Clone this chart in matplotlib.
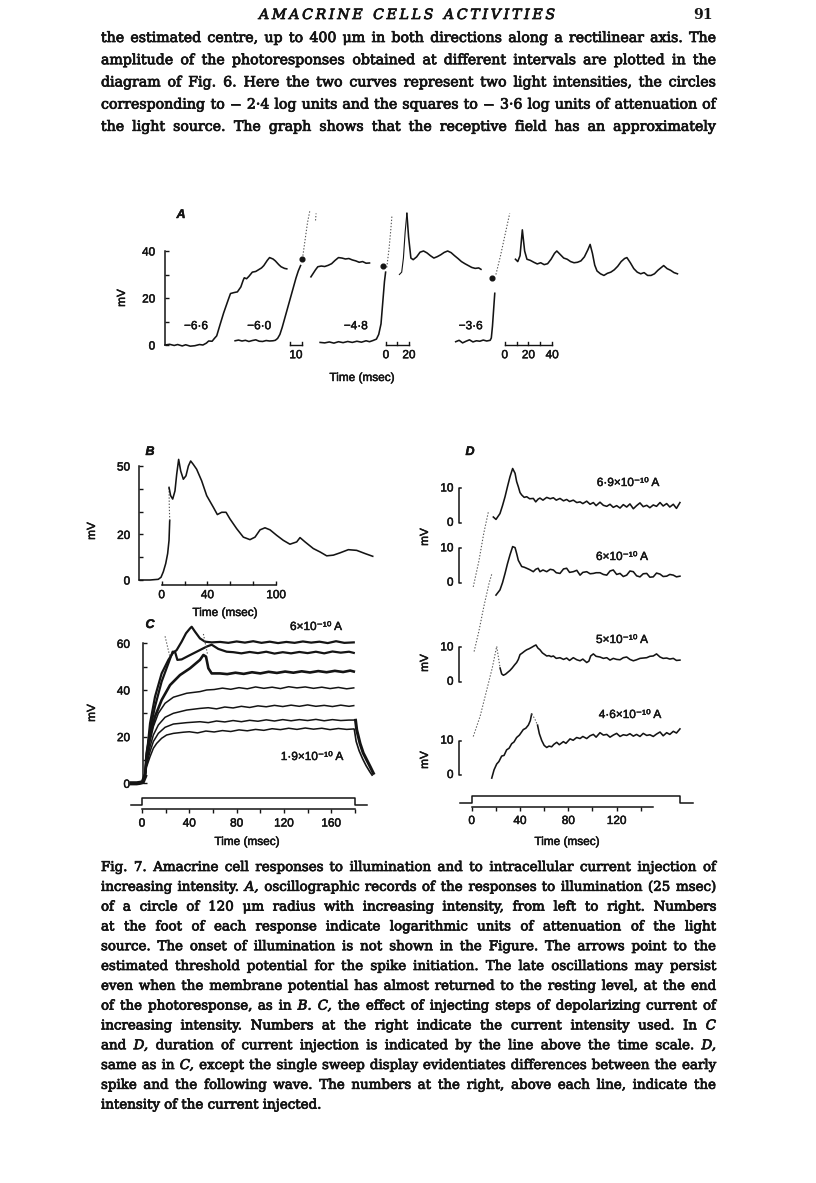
import numpy as np
import matplotlib
matplotlib.use("Agg")
import matplotlib.pyplot as plt
from matplotlib import patheffects

W, H = 816, 1183
SANS = ["Liberation Sans", "DejaVu Sans"]
SERIF = ["DejaVu Serif"]

# ---------------- page text ----------------
header = "AMACRINE CELLS ACTIVITIES"
page_no = "91"
body = [
    "the estimated centre, up to 400 μm in both directions along a rectilinear axis. The",
    "amplitude of the photoresponses obtained at different intervals are plotted in the",
    "diagram of Fig. 6. Here the two curves represent two light intensities, the circles",
    "corresponding to − 2·4 log units and the squares to − 3·6 log units of attenuation of",
    "the light source. The graph shows that the receptive field has an approximately",
]
caption = [
    "Fig. 7. Amacrine cell responses to illumination and to intracellular current injection of",
    "increasing intensity. _A, oscillographic records of the responses to illumination (25 msec)",
    "of a circle of 120 μm radius with increasing intensity, from left to right. Numbers",
    "at the foot of each response indicate logarithmic units of attenuation of the light",
    "source. The onset of illumination is not shown in the Figure. The arrows point to the",
    "estimated threshold potential for the spike initiation. The late oscillations may persist",
    "even when the membrane potential has almost returned to the resting level, at the end",
    "of the photoresponse, as in _B. _C, the effect of injecting steps of depolarizing current of",
    "increasing intensity. Numbers at the right indicate the current intensity used. In _C",
    "and _D, duration of current injection is indicated by the line above the time scale. _D,",
    "same as in _C, except the single sweep display evidentiates differences between the early",
    "spike and the following wave. The numbers at the right, above each line, indicate the",
    "intensity of the current injected.",
]

# ---------------- panel A: photoresponses (t in msec, mV) ----------------
a_labels = ["−6·6", "−6·0", "−4·8", "−3·6"]
a1 = [(0, 0), (4, 0.3), (8, -0.2), (11, 0.2), (15, -0.4), (18, 0.1), (22, -0.5), (26, -0.3),
      (30, 0.2), (33, 0.0), (36, 0.8), (38, 1.7), (41, 1.6), (43, 2.8), (45, 3.9), (48, 8.8),
      (51, 13.6), (55, 19.2), (57, 21.9), (60, 22.3), (63, 22.6), (66, 24.7), (68, 27.5),
      (69, 28.6), (71, 28.2), (73, 29.2), (76, 31), (79, 31.3), (81, 31.9), (84, 32.8),
      (86, 33.8), (89, 36), (91, 37.2), (94, 36.6), (96, 35.8), (99, 34.2), (101, 33.3),
      (104, 32.6), (106, 32.4)]
a2_foot = [(61, 1.8), (64, 2.1), (67, 1.7), (70, 2.0), (73, 1.5), (76, 1.9), (79, 2.2), (82, 1.6),
           (85, 1.5), (88, 1.9), (91, 1.7), (94, 1.8), (96, 2.0), (98, 2.8), (100, 4.5), (102, 7.5),
           (104, 11), (106, 14.5), (108, 18), (110, 21.5), (112, 25), (114, 28.5), (116, 31.5),
           (118, 33.8)]
a2_spike = [(120, 38), (122, 45), (124, 52), (126, 57)]
a2_tip = [(131, 53), (131.5, 56)]
a2_tail = [(127, 29), (129, 30.5), (131, 32), (133, 33.3), (136, 33.6), (139, 33.4), (142, 33.9),
           (145, 34.6), (148, 36), (151, 37.2), (154, 37), (157, 36.6), (160, 36.8), (163, 36.2),
           (166, 35.8), (169, 35.2), (172, 35.5), (175, 34.8), (178, 34.9)]
a3_foot = [(135, 1.1), (139, 0.9), (143, 1.3), (147, 0.8), (151, 1.4), (155, 1.0), (159, 1.5),
           (163, 1.1), (167, 1.6), (171, 1.2), (175, 1.8), (178, 1.4), (181, 1.9), (184, 2.5),
           (186, 4.5), (188, 9), (189, 15), (190, 21), (191, 27), (192, 31)]
a3_spike = [(193, 33), (195, 41), (196.5, 49), (197.5, 55)]
a3_up = [(204, 30), (206, 31), (207.5, 37), (209, 48), (210.5, 56)]
a3_tail = [(210.5, 56), (212, 46), (214, 37),
           (216, 36.3), (219, 37.5), (222, 39.5), (225, 40), (228, 39.2), (231, 38), (234, 37),
           (237, 37.6), (240, 38.4), (243, 39.4), (246, 40), (249, 39.3), (252, 38), (255, 36.8),
           (258, 35.5), (261, 34.6), (264, 33.8), (267, 33), (270, 32.6), (273, 32.8), (275, 32.2)]
a4_foot = [(253, 1.4), (256, 2.0), (259, 0.9), (262, 1.6), (265, 2.2), (268, 1.3), (271, 1.8),
           (274, 1.6), (277, 2.1), (280, 1.7), (283, 2.0), (284, 3), (285, 8), (286, 15), (287, 22)]
a4_spike = [(288, 30), (292, 38), (296, 47), (300, 56)]
a4_tail = [(305, 36.5), (307, 35.5), (309, 38), (311, 49), (313, 40), (315, 36.5), (318, 36),
           (321, 35.2), (324, 34.5), (327, 35), (330, 34.2), (333, 34.6), (336, 36.5), (339, 39),
           (341, 40), (344, 38.5), (347, 37), (350, 36.5), (353, 35.5), (356, 35), (359, 35.2),
           (362, 35.8), (365, 37.5), (368, 40.5), (370, 42.8), (372, 39), (374, 34), (376, 31.5),
           (379, 30.3), (382, 29.6), (385, 30.5), (388, 31), (391, 32), (394, 33.5), (397, 35.5),
           (400, 36.8), (402, 37.2), (405, 35), (408, 32.5), (411, 31), (414, 30.3), (417, 30.8),
           (420, 29.6), (423, 29.6), (426, 30.3), (429, 31.8), (432, 33), (434, 33.8), (437, 32.5),
           (440, 31.8), (443, 30.8), (446, 30.3)]
a_dots = [(119, 36.5), (189.5, 33.5), (285, 28.5)]
a_bar_ticks = [[109, 119], [192.3, 202.3, 212.3], [295.7, 306, 316.3, 326.7, 337]]
a_bar_labels = [{114: "10"}, {192.3: "0", 212.3: "20"}, {295.7: "0", 316.3: "20", 337: "40"}]

# ---------------- panel B ----------------
b_rise = [(-19.5, 0), (-10.2, 0), (-3.0, 0.3), (-0.6, 1.2), (1.4, 3.6), (3.5, 7.2), (5.2, 11.6),
          (6.4, 17.4), (7.0, 26.1)]
b_main = [(6.4, 40.6), (7.8, 37), (9.6, 35.5), (11.6, 39.1), (13.1, 46.4), (14.8, 52.9),
          (16.6, 47.8), (18.9, 44.2), (21.2, 45.7), (23.3, 50), (25.3, 52.2), (27.6, 50.7),
          (30.5, 48.6), (34.9, 43.5), (39.3, 37), (45.1, 31.9), (48.6, 28.7), (52.4, 29.7),
          (56.2, 29.7), (59.6, 26.8), (65.5, 22.5), (71.3, 18.8), (77.1, 17.7), (81.5, 18.8),
          (85.9, 22), (90.2, 22.9), (94.6, 22), (100.4, 19.6), (106.2, 17.4), (112, 15.7),
          (117.9, 16.7), (120.8, 18.6), (125.2, 16.7), (132.4, 13.8), (138.3, 12.3),
          (144.1, 10.6), (149.9, 10.9), (155.7, 11.9), (163, 13.3), (170.3, 13), (177.6, 11.6),
          (184.3, 10.4)]

# ---------------- panel C: current steps ----------------
c_levels_lbl = ["6×10⁻¹⁰ A", "1·9×10⁻¹⁰ A"]
c_start = [(-8.7, 0), (-4.5, 0), (-1.7, 0.2), (0.6, 0.5), (2.5, 2.9)]
c_tr = [
    [(2.5, 2.9), (3.9, 7.1), (6.8, 11.4), (9.6, 15), (12.4, 17.1), (16.6, 19.3), (20.8, 20.7),
     (26.5, 21.4), (35, 21.9), (40, 22.1), (47, 21.6), (54, 22.4), (61, 22.0), (68, 22.6),
     (75, 22.2), (82, 22.9), (89, 22.5), (96, 23.1), (103, 22.7), (110, 23.4), (117, 23.0),
     (124, 23.6), (131, 23.1), (138, 23.7), (145, 23.2), (152, 23.6), (159, 23.0), (166, 23.5),
     (173, 23.1), (179, 23.3)],
    [(2.5, 2.9), (3.9, 7.9), (6.8, 13.6), (9.6, 17.9), (13.8, 21.4), (19.5, 24), (26.5, 25.4),
     (37.8, 26), (49, 26.4), (56, 26.0), (63, 26.7), (70, 26.3), (77, 26.9), (84, 26.4),
     (91, 27.0), (98, 26.6), (105, 27.2), (112, 26.7), (119, 27.3), (126, 26.8), (133, 27.3),
     (140, 26.9), (147, 27.4), (154, 26.8), (161, 27.3), (168, 26.9), (175, 27.1), (179, 27.1)],
    [(2.5, 2.9), (3.9, 9.3), (6.8, 15.7), (9.6, 20.7), (13.8, 25), (19.5, 28.3), (26.5, 30),
     (37.8, 31.4), (49, 32.1), (56, 32.4), (63, 31.9), (70, 32.7), (77, 32.3), (84, 33.0),
     (91, 32.5), (98, 33.2), (105, 32.8), (112, 33.4), (119, 32.9), (126, 33.5), (133, 33.0),
     (140, 33.6), (147, 33.0), (154, 33.4), (161, 32.9), (168, 33.5), (175, 33.0), (179, 33.3)],
    [(2.5, 2.9), (3.9, 11.4), (6.8, 17.9), (9.6, 24.3), (13.8, 30), (19.5, 34.3), (26.5, 36.9),
     (37.8, 38.6), (49, 39.3), (54.7, 40), (61, 40.2), (68, 40.8), (75, 40.3), (82, 41.0),
     (89, 40.5), (96, 41.3), (103, 40.7), (110, 41.2), (117, 40.6), (124, 41.4), (131, 40.9),
     (138, 41.3), (145, 40.7), (152, 41.2), (159, 40.6), (166, 41.1), (173, 40.5), (179, 40.9)],
    [(2.5, 2.9), (3.9, 12.9), (6.8, 20.7), (11, 28.6), (16.6, 35.7), (23.7, 42.1), (32.1, 46.4),
     (40.6, 49.3), (49, 52.9), (51.9, 55), (54.1, 54.3), (56.1, 49.3), (58.9, 47.1), (66, 47.1),
     (72, 46.8), (79, 47.4), (86, 46.9), (93, 47.6), (100, 47.1), (107, 47.8), (114, 47.3),
     (121, 47.9), (128, 47.4), (135, 48.0), (142, 47.5), (149, 48.1), (156, 47.6), (163, 48.2),
     (170, 47.7), (176, 48.3), (179, 47.9)],
    [(2.5, 2.9), (3.9, 10.7), (6.8, 22.9), (11, 32.9), (16.6, 43.6), (22.3, 51.4), (25.9, 56.4),
     (27.9, 56.4), (29.9, 52.9), (33.5, 53.1), (39.2, 54.6), (46.2, 56.4), (54.7, 58.6),
     (58.9, 59.4), (64.5, 57.6), (71.6, 56.4), (77.2, 56.2), (84, 55.7), (91, 56.3), (98, 55.8),
     (105, 56.4), (112, 55.6), (119, 56.2), (126, 55.7), (133, 56.3), (140, 55.8), (147, 56.4),
     (154, 55.7), (161, 56.5), (168, 56.0), (175, 56.4), (179, 55.9)],
    [(2.5, 2.9), (3.9, 11.4), (6.8, 25.7), (11, 37.1), (16.6, 47.1), (22.3, 52.9), (25.9, 55.7),
     (29.3, 57.1), (33.5, 60.7), (37.2, 64.3), (40.6, 66.4), (42, 67.1), (44.8, 65), (49, 62.1),
     (53.3, 60.7), (58.9, 60.4), (66, 60.6), (73, 60.2), (80, 60.8), (87, 60.3), (94, 60.9),
     (101, 60.2), (108, 60.7), (115, 60.1), (122, 60.6), (129, 60.2), (136, 60.8), (143, 60.3),
     (150, 60.7), (157, 60.1), (164, 60.9), (171, 60.2), (179, 60.4)],
]
c_lw = [1.1, 1.1, 1.1, 1.1, 1.9, 1.6, 1.6]
c_faint = [[(19.5, 63), (23.7, 54)], [(51.9, 64), (55.5, 55)]]
c_end_a = [(180.5, 27), (181.5, 22.9), (184.3, 17.1), (187, 13), (190, 10), (193, 7), (195.6, 4.3)]
c_end_b = [(179.5, 23), (181, 18), (183.5, 14), (186.5, 10.5), (189.5, 7.5), (192.5, 5), (194.5, 3.5)]
c_step_t = [-9, 0, 0, 180, 180, 190]
c_step_on = [0, 0, 1, 1, 0, 0]

# ---------------- panel D: single sweeps ----------------
d_levels_lbl = ["6·9×10⁻¹⁰ A", "6×10⁻¹⁰ A", "5×10⁻¹⁰ A", "4·6×10⁻¹⁰ A"]
d1 = [(17.9, 1.7), (20.1, 1.0), (23.4, 2.7), (25.5, 5), (27.6, 7.6), (29.6, 10.5), (31.7, 13.4),
      (33.9, 15.8), (35.9, 14.4), (37.2, 12), (38.6, 10.5), (40, 8.8), (41.4, 8.1), (43.5, 7.4),
      (45.5, 7.6), (48, 7.0), (51, 7.1), (53, 6.1), (55, 6.9), (56.5, 7.2), (59, 6.6), (62.1, 7.4),
      (65, 7.0), (67.6, 7.3), (70, 6.6), (73.1, 7.1), (76, 6.4), (78.6, 6.8), (81, 6.2),
      (84.1, 6.6), (87, 5.9), (89.7, 6.1), (92, 5.6), (95.2, 6.3), (98, 5.4), (100.7, 5.9),
      (103, 5.0), (106.2, 6.0), (109, 5.1), (111.8, 4.8), (114.5, 5.4), (117.2, 4.5), (120, 5.0),
      (122.8, 4.3), (125.5, 5.3), (128.3, 4.6), (131, 5.5), (133.8, 4.1), (136.5, 5.0),
      (139.3, 5.8), (142, 4.7), (144.9, 5.1), (147.5, 4.4), (150.3, 5.2), (153, 4.8), (155.9, 5.9),
      (158.5, 4.9), (161.4, 5.6), (164, 4.6), (166.9, 5.4), (169.5, 4.2), (172.4, 5.9)]
d2 = [(20.1, -3.6), (23.4, -2.1), (25.5, 0), (27.6, 2.7), (29.6, 5.5), (31.7, 8.1), (33.9, 10.5),
      (35.9, 10.2), (37.2, 8.5), (38.6, 6.5), (40, 5.6), (41.4, 4.7), (43.5, 4.5), (45.5, 4.2),
      (48, 3.8), (51, 3.2), (53, 3.9), (55, 4.2), (56.5, 3.2), (59, 3.7), (62.1, 3.2), (65, 3.9),
      (67.6, 3.7), (70, 2.9), (73.1, 2.7), (76, 4.0), (78.6, 4.2), (81, 3.0), (84.1, 3.2), (87, 3.6),
      (89.7, 2.2), (92, 3.0), (95.2, 3.2), (98, 2.6), (100.7, 2.7), (103, 2.9), (106.2, 2.9),
      (109, 2.4), (111.8, 2.2), (114.5, 3.4), (117.2, 3.7), (120, 2.4), (122.8, 2.7), (125.5, 1.8),
      (128.3, 2.2), (131, 3.4), (133.8, 3.2), (136.5, 2.0), (139.3, 1.7), (142, 2.6), (144.9, 2.7),
      (147.5, 1.6), (150.3, 1.7), (153, 2.8), (155.9, 2.5), (158.5, 1.8), (161.4, 1.9), (164, 2.4),
      (166.9, 2.2), (169.5, 1.7), (172.4, 1.9)]
d3 = [(23.5, 4.0), (24.8, 2.3), (26.2, 1.9), (28, 2.2), (30, 2.8), (31.7, 3.3), (33.5, 4.0),
      (35.5, 4.9), (37.2, 5.6), (38.6, 6.5), (40, 7.9), (42, 8.4), (43.8, 8.9), (45.5, 9.3),
      (47.5, 9.6), (49.6, 10), (51.5, 10.4), (53.2, 10.7), (54.8, 9.8), (56.5, 9.3), (58.5, 8.4),
      (60.5, 7.9), (62.1, 7.5), (64, 7.6), (65.8, 7.3), (67.6, 7.5), (70, 6.8), (73.1, 7.0),
      (76, 6.5), (78.6, 6.9), (81, 6.2), (84.1, 7.0), (87, 6.4), (89.7, 6.1), (92, 6.6), (95.2, 5.6),
      (97, 6.0), (98.5, 7.5), (100.7, 8.1), (103, 7.4), (106.2, 7.2), (109, 6.8), (111.8, 7.0),
      (114.5, 6.3), (117.2, 6.8), (120, 6.5), (122.8, 6.4), (125.5, 7.0), (128.3, 7.2), (131, 6.5),
      (133.8, 6.1), (136.5, 6.4), (139.3, 6.8), (142, 6.9), (144.9, 7.0), (147.5, 7.4), (150.3, 7.5),
      (153, 8.1), (155.9, 7.2), (158.5, 6.8), (161.4, 6.9), (164, 6.6), (166.9, 6.8), (169.5, 6.2),
      (172.4, 6.3)]
d4_rise = [(16.6, -0.9), (18.5, 1.5), (20.7, 3.2), (22.5, 3.9), (24.8, 5.5), (26.8, 5.7),
           (28.9, 7.3), (31, 7.8), (33.1, 9.1), (35, 9.6), (37.2, 10.9), (39.5, 11.6), (42.7, 13.2),
           (44.8, 13.6), (46.9, 14.5), (48.5, 15.8), (49.6, 17.7)]
d4 = [(54.5, 14.5), (56, 12), (58, 10), (60, 8.6), (62.1, 8.0), (64, 8.4), (66.2, 8.2), (68, 8.9),
      (70.4, 9.5), (72.5, 8.8), (75.9, 9.7), (78, 9.2), (81.4, 10.5), (84, 10.1), (86.9, 10.9),
      (89.7, 10.6), (92, 11.2), (95.2, 10.6), (98, 11.4), (100.7, 11.8), (103, 11.0), (106.2, 12.3),
      (109, 11.6), (111.8, 11.8), (114.5, 11.0), (117.2, 11.6), (120, 12.1), (122.8, 11.2),
      (125.5, 11.7), (128.3, 11.5), (131, 12.0), (133.8, 11.3), (136.5, 11.8), (139.3, 11.2),
      (142, 12.1), (144.9, 11.5), (147.5, 11.7), (150.3, 11.2), (153, 11.9), (155.9, 12.5),
      (158.5, 11.4), (161.4, 12.3), (164, 11.8), (166.9, 12.7), (169.5, 12.2), (172.4, 13.4)]
d_faint = [
    [(1.3, -18.6), (6, -11), (10, -3), (13.8, 3.2)],
    [(2, -20), (6, -14), (10, -7), (14.5, 0), (16.6, 2.5)],
    [(1.3, -15.9), (7, -10), (12, -3), (17, 4), (20.7, 10.3), (23.5, 4)],
    [(49.6, 17.7), (52, 16.5), (54.5, 14.5)],
]
d_step_t = [-9.7, 0, 0, 172.4, 172.4, 183.4]
d_step_on = [0, 0, 1, 1, 0, 0]

# ======================================================================
fig = plt.figure(figsize=(W / 100, H / 100), dpi=100)
fig.patch.set_facecolor("white")
page = fig.add_axes([0, 0, 1, 1])
page.set_xlim(0, W)
page.set_ylim(H, 0)
page.axis("off")
renderer = fig.canvas.get_renderer()
INK = "#141414"
BOLDEN = [patheffects.withStroke(linewidth=0.55, foreground=INK)]
BOLDEN_S = [patheffects.withStroke(linewidth=0.35, foreground=INK)]


def text_width(s, size, family, style="normal", weight="normal"):
    t = page.text(0, 0, s, fontsize=size, family=family, style=style, weight=weight)
    w = t.get_window_extent(renderer).width
    t.remove()
    return w


def put_line(line, y, x0, x1, size, family, justify=True):
    items = []
    for w in line.split():
        if w.startswith("_"):
            items.append((w[1:], "italic"))
        else:
            items.append((w, "normal"))
    widths = [text_width(s, size, family, st) for s, st in items]
    if justify and len(items) > 1:
        gap = (x1 - x0 - sum(widths)) / (len(items) - 1)
    else:
        gap = text_width("a a", size, family) - text_width("aa", size, family)
    x = x0
    for (s, st), w in zip(items, widths):
        page.text(x, y, s, fontsize=size, family=family, style=st, color=INK,
                  ha="left", va="baseline", path_effects=BOLDEN)
        x += w + gap


def put_spaced(s, y, x0, x1, size, family, style):
    # letter-spaced running head
    ws = [text_width(ch, size, family, style) if ch != " " else size * 0.5 for ch in s]
    gap = (x1 - x0 - sum(ws)) / (len(s) - 1)
    x = x0
    for ch, w in zip(s, ws):
        if ch != " ":
            page.text(x, y, ch, fontsize=size, family=family, style=style, color=INK,
                      ha="left", va="baseline", path_effects=BOLDEN)
        x += w + gap


def fit_size(lines, width, family):
    widest = max(text_width(l.replace("_", ""), 10, family) for l in lines)
    return 10 * width / widest * 0.985


X0, X1 = 101, 716
bsize = fit_size(body, X1 - X0, SERIF)
put_spaced(header, 19, 259, 555, bsize, SERIF, "italic")
page.text(713, 19, page_no, fontsize=bsize, family=SERIF, weight="bold", ha="right",
          va="baseline", color=INK)
for i, line in enumerate(body):
    put_line(line, 42 + i * 22.2, X0, X1, bsize, SERIF)

csize = fit_size(caption[:-1], X1 - X0, SERIF)
for i, line in enumerate(caption):
    put_line(line, 871 + i * 19.8, X0, X1, csize, SERIF, justify=(i < len(caption) - 1))


# ---------------- panel helper ----------------
def panel(x0, y0, sx, sy, box):
    l, t, r, b = box
    ax = fig.add_axes([l / W, 1 - b / H, (r - l) / W, (b - t) / H])
    ax.set_xlim((l - x0) / sx, (r - x0) / sx)
    ax.set_ylim((y0 - b) / sy, (y0 - t) / sy)
    ax.patch.set_visible(False)
    for s in ax.spines.values():
        s.set_visible(False)
        s.set_linewidth(1.1)
        s.set_color(INK)
    ax.set_xticks([])
    ax.set_yticks([])
    ax.tick_params(colors=INK, labelsize=8.5, width=1.0, length=3)
    return ax


def yaxis(ax, xpos, lo, hi, ticks, labels, pad):
    sp = ax.spines["left"]
    sp.set_visible(True)
    sp.set_position(("data", xpos))
    sp.set_bounds(lo, hi)
    ax.set_yticks(ticks, labels)
    ax.tick_params(axis="y", direction="in", pad=pad)
    for tl in ax.get_yticklabels():
        tl.set_family(SANS)
        tl.set_path_effects(BOLDEN_S)


def xaxis(ax, ypos, lo, hi, ticks, labels, direction):
    sp = ax.spines["bottom"]
    sp.set_visible(True)
    sp.set_position(("data", ypos))
    sp.set_bounds(lo, hi)
    ax.set_xticks(ticks, labels)
    ax.tick_params(axis="x", direction=direction, pad=3)
    for tl in ax.get_xticklabels():
        tl.set_family(SANS)
        tl.set_path_effects(BOLDEN_S)


def trace(ax, pts, lw=1.15, off=0.0, **kw):
    a = np.array(pts, dtype=float)
    ax.plot(a[:, 0], a[:, 1] + off, color=INK, lw=lw, solid_joinstyle="round", **kw)


def faint(ax, pts, off=0.0):
    a = np.array(pts, dtype=float)
    ax.plot(a[:, 0], a[:, 1] + off, color="#555555", lw=0.8, ls=(0, (1.2, 1.6)))


def label(x, y, s, size=8.5, **kw):
    page.text(x, y, s, fontsize=size, family=SANS, color=INK, ha="center", va="center",
              path_effects=BOLDEN_S, **kw)


def small(ax, x, y, s, **kw):
    ax.text(x, y, s, fontsize=8.5, family=SANS, color=INK, path_effects=BOLDEN_S, **kw)


# ---------------- A ----------------
axA = panel(165, 345, 1.149, 2.35, (100, 180, 716, 420))
yaxis(axA, 0, 0, 40, [0, 10, 20, 30, 40], ["0", "", "20", "", "40"], 7)
for pts in (a1, a2_foot, a2_tail, a3_foot, a3_tail, a4_foot, a4_tail):
    trace(axA, pts)
trace(axA, a3_up, lw=0.8)
for pts in (a2_spike, a2_tip, a3_spike, a4_spike):
    faint(axA, pts)
dA = np.array(a_dots)
axA.plot(dA[:, 0], dA[:, 1], "o", color=INK, ms=3.4)
for ticks, labs in zip(a_bar_ticks, a_bar_labels):
    axA.plot([ticks[0], ticks[-1]], [0, 0], color=INK, lw=1.0)
    for tk in ticks:
        axA.plot([tk, tk], [0, 1.4], color=INK, lw=1.0)
    for tk, s in labs.items():
        small(axA, tk, -1.8, s, ha="center", va="top")
for s, tx in zip(a_labels, [27, 82, 166, 266]):
    small(axA, tx, 8, s, ha="center", va="center")
label(181, 215, "A", size=9, style="italic", weight="bold")
label(122, 298, "mV", rotation=90)
label(362, 378, "Time (msec)")

# ---------------- B ----------------
axB = panel(161.7, 580, 1.145, 2.28, (100, 440, 420, 610))
yaxis(axB, -19.6, 0, 50, [0, 10, 20, 30, 40, 50], ["0", "", "20", "", "", "50"], 6.5)
xaxis(axB, -2.2, 0, 100, [0, 20, 40, 60, 80, 100], ["0", "", "40", "", "", "100"], "in")
trace(axB, b_rise)
faint(axB, [b_rise[-1], (6.6, 33), b_main[0]])
trace(axB, b_main)
label(150, 452, "B", size=9, style="italic", weight="bold")
label(92, 531, "mV", rotation=90)
label(225, 613, "Time (msec)")

# ---------------- C ----------------
axC = panel(142, 783.3, 1.183, 2.333, (100, 615, 420, 835))
yaxis(axC, 0.5, 0, 60, [0, 10, 20, 30, 40, 50, 60], ["0", "", "20", "", "40", "", "60"], 9)
xaxis(axC, -11.1, 0, 180, list(range(0, 181, 20)),
      ["0", "", "40", "", "80", "", "120", "", "160", ""], "out")
trace(axC, c_start, lw=3.0)
for pts, lw in zip(c_tr, c_lw):
    trace(axC, pts, lw=lw)
for pts in c_faint:
    faint(axC, pts)
trace(axC, c_end_a, lw=2.2)
trace(axC, c_end_b, lw=1.2)
stC = -9.3 + 2.9 * np.array(c_step_on)
axC.plot(c_step_t, stC, color=INK, lw=1.1)
label(150, 625, "C", size=9, style="italic", weight="bold")
label(92, 713, "mV", rotation=90)
label(247, 842, "Time (msec)")
label(316, 627, c_levels_lbl[0])
label(312, 757, c_levels_lbl[1])

# ---------------- D ----------------
axD = panel(471.7, 775, 1.208, 3.44, (420, 440, 740, 835))
d_off = [73.3, 55.9, 27.1, 0.0]
xaxis(axD, -9.2, 0, 150, list(range(0, 141, 20)), ["0", "", "40", "", "80", "", "120", ""], "out")
trace(axD, d1, off=d_off[0])
trace(axD, d2, off=d_off[1])
trace(axD, d3, off=d_off[2])
trace(axD, d4_rise, off=d_off[3])
trace(axD, d4, off=d_off[3])
for pts, off in zip(d_faint, d_off):
    faint(axD, pts, off)
for off in d_off:
    axD.plot([-8.6, -10.3, -10.3, -8.6], [off, off, off + 10, off + 10], color=INK, lw=1.1)
    small(axD, -15, off + 10, "10", ha="right", va="center")
    small(axD, -15, off, "0", ha="right", va="center")
stD = -8.05 + 1.95 * np.array(d_step_on)
axD.plot(d_step_t, stD, color=INK, lw=1.1)
label(470, 452, "D", size=9, style="italic", weight="bold")
for yy in (537, 663, 760):
    label(425, yy, "mV", rotation=90)
label(567, 842, "Time (msec)")
for s, (xx, yy) in zip(d_levels_lbl, [(628, 483), (622, 557), (622, 640), (630, 715)]):
    label(xx, yy, s)

fig.savefig("out.png", dpi=100, facecolor="white")
